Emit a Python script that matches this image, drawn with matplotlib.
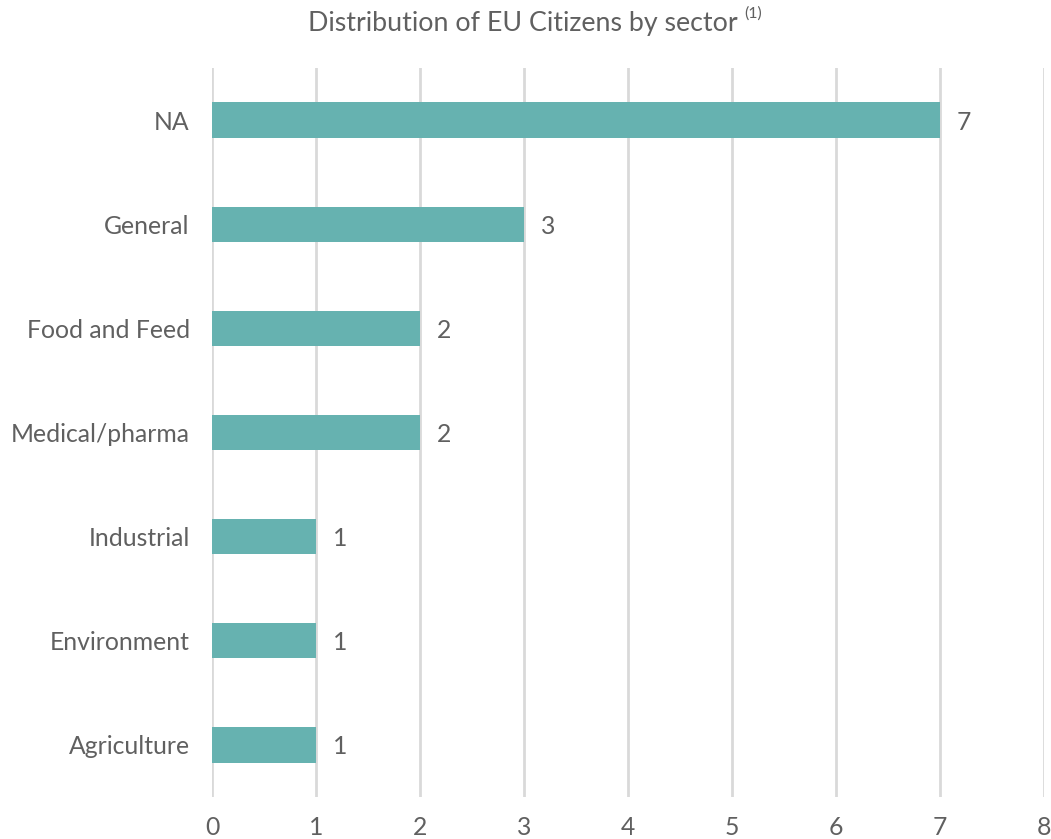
import matplotlib
matplotlib.use("Agg")
import matplotlib.pyplot as plt
import matplotlib.transforms as mtransforms

categories = ["NA", "General", "Food and Feed", "Medical/pharma", "Industrial", "Environment", "Agriculture"]
values = [7, 3, 2, 2, 1, 1, 1]
xticks = [0, 1, 2, 3, 4, 5, 6, 7, 8]
title = "Distribution of EU Citizens by sector"
title_note = "(1)"

plt.rcParams['font.family'] = ['Lato', 'DejaVu Sans']
text_color = "#606060"
bar_color = "#66b2b0"
grid_color = "#d9d9d9"
fs = 17.8

fig = plt.figure(figsize=(10.51, 8.39), dpi=100)
W, H = 1051, 839
left, right, top, bottom = 212, 1044, 68, 797
ax = fig.add_axes([left / W, 1 - bottom / H, (right - left) / W, (bottom - top) / H])

ypos = list(range(len(categories)))
ax.barh(ypos, values, height=0.34, color=bar_color, zorder=3)
ax.set_ylim(len(categories) - 0.5, -0.5)
ax.set_xlim(0, 8)
ax.set_xticks(xticks)
ax.set_xticklabels([str(t) for t in xticks])
ax.set_yticks(ypos)
ax.set_yticklabels(categories)
for s in ax.spines.values():
    s.set_visible(False)
ax.grid(axis='x', color=grid_color, linewidth=2, zorder=0)
ax.tick_params(axis='both', length=0, labelsize=fs, labelcolor=text_color)
ax.tick_params(axis='y', pad=16)
ax.tick_params(axis='x', pad=14)

for y, v in zip(ypos, values):
    ax.annotate(str(v), xy=(v, y), xytext=(17, -2), textcoords='offset pixels',
                va='center', ha='left', fontsize=fs, color=text_color)

t = fig.text(523 / W, 1 - 23 / H, title, ha='center', va='center', fontsize=19.3,
             color=text_color)
fig.canvas.draw()
bb = t.get_window_extent()
fig.text(bb.x1 + 6, bb.y1 - 10, title_note, fontsize=11.5, color=text_color,
         va='bottom', ha='left', transform=mtransforms.IdentityTransform())

fig.savefig("out.png", dpi=100)
